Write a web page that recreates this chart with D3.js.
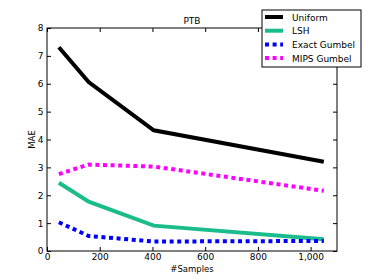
<!DOCTYPE html>
<html>
<head>
<meta charset="utf-8">
<script src="https://cdn.jsdelivr.net/npm/d3@7"></script>
<style>
  body { margin: 0; background: #fff; }
  text { font-family: "DejaVu Sans", sans-serif; }
</style>
</head>
<body>
<div id="chart"></div>
<script>
var width = 374,
    height = 280;

var margin = {top: 28, right: 37, bottom: 29, left: 47};

// data
var samples = [45, 158, 405, 1050];
var seriesNames = ["Uniform", "LSH", "Exact Gumbel", "MIPS Gumbel"];
var uniform = [7.31, 6.06, 4.33, 3.2];
var lsh = [2.45, 1.77, 0.91, 0.42];
var exactGumbel = [1.03, 0.54, 0.34, 0.36];
var mipsGumbel = [2.76, 3.1, 3.03, 2.16];
var xTicks = [0, 200, 400, 600, 800, 1000];
var yTicks = [0, 1, 2, 3, 4, 5, 6, 7, 8];

var colors = ["#000000", "#1abc8c", "#0000ff", "#ff00ff"];
var dashes = [null, null, "4,3.6", "4,3.6"];

var series = [uniform, lsh, exactGumbel, mipsGumbel];

var svg = d3.select("#chart")
    .append("svg")
    .attr("width", width)
    .attr("height", height)

var w = width - margin.left - margin.right,
    h = height - margin.top - margin.bottom;

var x = d3.scaleLinear().domain([0, 1100]).range([margin.left, margin.left + w])
var y = d3.scaleLinear().domain([0, 8]).range([margin.top + h, margin.top])

var line = d3.line()
    .x(function (d, i) { return x(samples[i]); })
    .y(function (d) { return y(d); })

// lines
series.forEach(function (s, i) {
    svg.append("path")
        .datum(s)
        .attr("d", line)
        .style("fill", "none")
        .style("stroke", colors[i])
        .style("stroke-width", 4)
        .style("stroke-dasharray", dashes[i])
})

// axes (ticks inward, like matplotlib classic)
var fs = "9px";
svg.append("g")
    .attr("transform", "translate(0," + (margin.top + h) + ")")
    .call(d3.axisBottom(x).tickValues(xTicks).tickSize(-4).tickPadding(3))
    .call(function (g) { g.select(".domain").remove(); })
    .selectAll("text").style("font-size", fs).style("font-family", "DejaVu Sans")

svg.append("g")
    .attr("transform", "translate(0," + margin.top + ")")
    .call(d3.axisTop(x).tickValues(xTicks).tickSize(-4).tickFormat(""))
    .call(function (g) { g.select(".domain").remove(); })

svg.append("g")
    .attr("transform", "translate(" + margin.left + ",0)")
    .call(d3.axisLeft(y).tickValues(yTicks).tickSize(-4).tickPadding(3.5))
    .call(function (g) { g.select(".domain").remove(); })
    .selectAll("text").style("font-size", fs).style("font-family", "DejaVu Sans")

svg.append("g")
    .attr("transform", "translate(" + (margin.left + w) + ",0)")
    .call(d3.axisRight(y).tickValues(yTicks).tickSize(-4).tickFormat(""))
    .call(function (g) { g.select(".domain").remove(); })

svg.append("rect")
    .attr("x", margin.left)
    .attr("y", margin.top)
    .attr("width", w)
    .attr("height", h)
    .style("fill", "none")
    .style("stroke", "#000")
    .style("stroke-width", 1)

// title and labels
svg.append("text")
    .text("PTB")
    .attr("x", margin.left + w / 2)
    .attr("y", margin.top - 4)
    .style("text-anchor", "middle")
    .style("font-size", "9px")

svg.append("text")
    .text("#Samples")
    .attr("x", margin.left + w / 2)
    .attr("y", 272)
    .style("text-anchor", "middle")
    .style("font-size", "8.5px")

svg.append("text")
    .text("MAE")
    .attr("transform", "translate(35," + (margin.top + h / 2) + ") rotate(-90)")
    .style("text-anchor", "middle")
    .style("font-size", "8.5px")

// legend
var lg = svg.append("g").attr("transform", "translate(262,10)")

lg.append("rect")
    .attr("width", 99)
    .attr("height", 57)
    .style("fill", "#fff")
    .style("stroke", "#000")
    .style("stroke-width", 1)

seriesNames.forEach(function (name, i) {
    var ly = 7 + i * 13.7;
    lg.append("line")
        .attr("x1", 3)
        .attr("x2", 21)
        .attr("y1", ly)
        .attr("y2", ly)
        .style("stroke", colors[i])
        .style("stroke-width", 4)
        .style("stroke-dasharray", dashes[i])
    lg.append("text")
        .text(name)
        .attr("x", 30)
        .attr("y", ly + 3.5)
        .style("font-size", "9px")
})
</script>
</body>
</html>
